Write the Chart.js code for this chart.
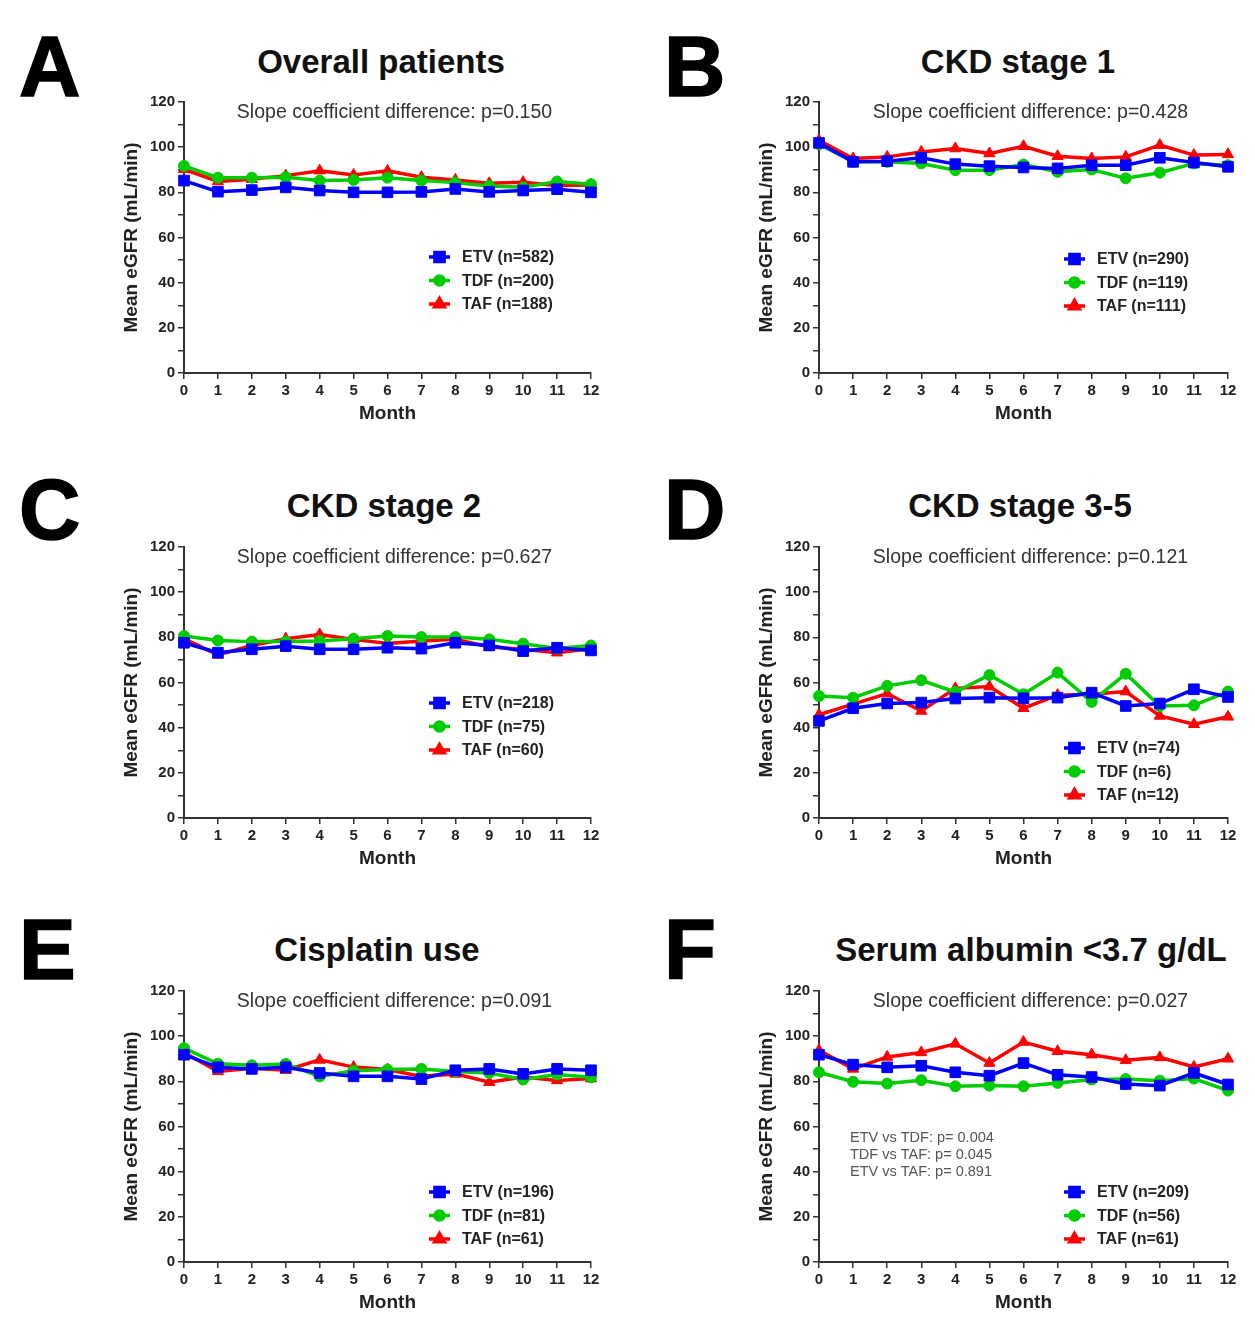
<!DOCTYPE html>
<html><head><meta charset="utf-8">
<script src="https://cdn.jsdelivr.net/npm/chart.js@4.4.1/dist/chart.umd.min.js"></script>
<style>
html,body{margin:0;padding:0;background:#fff;}
body{width:1255px;height:1317px;position:relative;overflow:hidden;font-family:"Liberation Sans",Arial,sans-serif;}
.letter{position:absolute;font-weight:bold;font-size:85px;line-height:1;color:#000;-webkit-text-stroke:1.5px #000;}
.title{position:absolute;font-weight:bold;font-size:33px;line-height:1;color:#111;white-space:nowrap;transform:translateX(-50%);}
canvas{position:absolute;}
</style></head><body>
<script>
// ---------- data ----------
const months = [0,1,2,3,4,5,6,7,8,9,10,11,12];
const seriesNames = ['ETV','TDF','TAF'];
const panelLetters = ['A','B','C','D','E','F'];
const panelTitles = ['Overall patients','CKD stage 1','CKD stage 2','CKD stage 3-5','Cisplatin use','Serum albumin <3.7 g/dL'];
const slopeP = ['0.150','0.428','0.627','0.121','0.091','0.027'];
const nETV = [582,290,218,74,196,209];
const nTDF = [200,119,75,6,81,56];
const nTAF = [188,111,60,12,61,61];
const yAxisTitle = 'Mean eGFR (mL/min)';
const xAxisTitle = 'Month';
const pairwiseF = ['ETV vs TDF: p= 0.004','TDF vs TAF: p= 0.045','ETV vs TAF: p= 0.891'];

const etvA = [85.2,80.3,81.0,82.2,80.8,80.0,80.0,80.2,81.5,80.2,80.8,81.4,80.0];
const tdfA = [91.7,86.5,86.5,86.7,85.2,85.5,86.5,85.2,84.3,82.8,82.2,84.8,83.6];
const tafA = [90.2,84.8,85.8,87.4,89.6,87.7,89.5,86.7,85.5,84.0,84.5,83.0,83.3];

const etvB = [101.9,93.5,93.8,95.3,92.5,91.6,91.0,90.6,92.0,92.0,95.3,93.2,91.3];
const tdfB = [101.3,93.5,93.5,92.8,89.8,89.8,92.3,89.1,90.1,86.2,88.7,92.8,92.0];
const tafB = [103.0,95.0,95.7,97.9,99.4,97.2,100.4,96.0,95.0,95.7,100.9,96.5,96.8];

const etvC = [77.6,73.2,74.7,76.1,74.7,74.7,75.4,75.0,77.6,76.4,73.9,75.4,74.2];
const tdfC = [80.6,78.6,78.1,78.1,78.4,79.4,80.6,80.1,80.1,79.1,77.2,75.1,76.4];
const tafC = [79.4,72.2,76.4,79.4,81.3,79.1,77.3,78.4,79.1,75.7,74.7,73.2,75.0];

const etvD = [43.0,48.6,50.7,51.1,52.9,53.3,53.0,53.3,55.5,49.6,50.7,57.0,53.6];
const tdfD = [54.0,53.3,58.5,61.0,55.8,63.3,54.8,64.4,51.4,63.9,49.6,49.9,56.0];
const tafD = [45.7,50.4,55.1,47.4,57.4,58.2,48.6,54.4,54.8,56.0,45.2,41.5,44.8];

const etvE = [91.8,86.2,85.5,86.2,83.7,82.2,82.2,81.0,84.9,85.5,83.3,85.5,84.9];
const tdfE = [94.7,87.8,87.1,87.7,82.2,84.7,85.2,85.5,84.4,83.7,80.8,83.0,81.8];
const tafE = [92.8,84.4,85.8,84.9,89.5,86.3,85.2,82.2,83.3,79.6,81.9,80.4,81.2];

const etvF = [91.8,87.4,86.2,86.9,84.0,82.5,88.1,82.9,81.9,78.8,78.1,83.7,78.6];
const tdfF = [84.0,79.8,79.0,80.5,77.8,78.1,77.8,79.3,80.8,81.0,80.3,81.2,75.9];
const tafF = [93.7,85.5,90.8,92.8,96.6,88.1,97.4,93.3,91.8,89.3,90.6,86.4,90.0];

const panelSeries = [[etvA,tdfA,tafA],[etvB,tdfB,tafB],[etvC,tdfC,tafC],[etvD,tdfD,tafD],[etvE,tdfE,tafE],[etvF,tdfF,tafF]];
const panelN = [0,1,2,3,4,5].map(i => [nETV[i], nTDF[i], nTAF[i]]);

// ---------- style / layout ----------
const colors = ['#0000ff','#00cc00','#ff0000'];
const pStyles = ['rect','circle','triangle'];
const pRadius = [7.5,5.5,6.5];
const FONT = '"Liberation Sans", Arial, sans-serif';
const canvasTops = [0,445,889];
const titleCenters = [381,1018,384,1020,377,1031];
const legendOffsets = [155,157,156,201,201,201];

Chart.defaults.font.family = FONT;

const decoPlugin = {
  id: 'deco',
  afterDraw(chart, args, opts) {
    const ctx = chart.ctx, ca = chart.chartArea;
    ctx.save();
    // slope text
    ctx.font = '19.5px ' + FONT;
    ctx.fillStyle = '#333';
    ctx.textAlign = 'center';
    ctx.textBaseline = 'middle';
    ctx.fillText('Slope coefficient difference: p=' + opts.p, (ca.left + ca.right) / 2 + 7, ca.top + 11);
    // legend
    const x0 = ca.left + 245;
    for (let k = 0; k < 3; k++) {
      const y = ca.top + opts.legendTop + k * 23.5;
      ctx.strokeStyle = colors[k];
      ctx.lineWidth = 3.5;
      ctx.beginPath(); ctx.moveTo(x0, y); ctx.lineTo(x0 + 21, y); ctx.stroke();
      ctx.fillStyle = colors[k];
      Chart.helpers.drawPoint(ctx, {pointStyle: pStyles[k], radius: pRadius[k] - 1, rotation: 0, borderWidth: 1}, x0 + 10.5, y);
      ctx.fillStyle = '#222';
      ctx.font = 'bold 16px ' + FONT;
      ctx.textAlign = 'left';
      ctx.fillText(seriesNames[k] + ' (n=' + opts.n[k] + ')', x0 + 33, y + 1);
    }
    // pairwise text
    if (opts.pairwise) {
      ctx.font = '14.5px ' + FONT;
      ctx.fillStyle = '#555';
      ctx.textAlign = 'left';
      opts.pairwise.forEach((t, j) => ctx.fillText(t, ca.left + 31, ca.top + 147 + j * 17));
    }
    ctx.restore();
  }
};

for (let i = 0; i < 6; i++) {
  const col = i % 2, row = Math.floor(i / 2);
  const left = col ? 635 : 0;
  const width = col ? 620 : 627;
  const top = canvasTops[row];

  const let_ = document.createElement('div');
  let_.className = 'letter';
  let_.textContent = panelLetters[i];
  let_.style.left = (col ? 664 : 19) + 'px';
  let_.style.top = (top + 24 - (row === 1 ? 2 : 0) - (row === 2 ? 6 : 0)) + 'px';
  document.body.appendChild(let_);

  const t = document.createElement('div');
  t.className = 'title';
  t.textContent = panelTitles[i];
  t.style.left = titleCenters[i] + 'px';
  t.style.top = (top + 45 - (row === 1 ? 1 : 0) - (row === 2 ? 1 : 0)) + 'px';
  document.body.appendChild(t);

  const cv = document.createElement('canvas');
  cv.width = width; cv.height = 444;
  cv.style.left = left + 'px'; cv.style.top = top + 'px';
  cv.style.width = width + 'px'; cv.style.height = '444px';
  document.body.appendChild(cv);

  const datasets = panelSeries[i].map((vals, k) => ({
    label: seriesNames[k],
    data: months.map((m, j) => ({x: m, y: vals[j]})),
    borderColor: colors[k],
    backgroundColor: colors[k],
    borderWidth: 3.5,
    pointStyle: pStyles[k],
    pointRadius: pRadius[k],
    pointBackgroundColor: colors[k],
    pointBorderColor: colors[k],
    pointBorderWidth: 1,
    tension: 0,
    clip: false
  }));

  new Chart(cv, {
    type: 'line',
    data: {datasets},
    options: {
      responsive: false,
      animation: false,
      devicePixelRatio: 1,
      layout: {padding: {left: 116, right: col ? 27 : 36, top: 102, bottom: 15}},
      plugins: {
        legend: {display: false},
        tooltip: {enabled: false},
        title: {display: false},
        deco: {p: slopeP[i], n: panelN[i], legendTop: legendOffsets[i], pairwise: i === 5 ? pairwiseF : null}
      },
      scales: {
        x: {
          type: 'linear', min: 0, max: 12,
          ticks: {stepSize: 1, font: {size: 15, weight: 'bold'}, color: '#222', padding: 3, maxRotation: 0},
          grid: {display: true, drawOnChartArea: false, drawTicks: true, tickLength: 6, color: '#333', lineWidth: 1.5},
          border: {display: true, color: '#333', width: 2},
          title: {display: true, text: xAxisTitle, font: {size: 19, weight: 'bold'}, color: '#222', padding: {top: 4, bottom: 4}},
          afterFit: s => { s.height = 56; }
        },
        y: {
          type: 'linear', min: 0, max: 120,
          ticks: {stepSize: 10, font: {size: 15, weight: 'bold'}, color: '#222', padding: 3,
                  callback: v => (v % 20 === 0 ? v : '')},
          grid: {display: true, drawOnChartArea: false, drawTicks: true, tickLength: 6, color: '#333', lineWidth: 1.5},
          border: {display: true, color: '#333', width: 2},
          title: {display: true, text: yAxisTitle, font: {size: 19, weight: 'bold'}, color: '#222', padding: {top: 4, bottom: 4}},
          afterFit: s => { s.width = 68; }
        }
      }
    },
    plugins: [decoPlugin]
  });
}
</script>
</body></html>
